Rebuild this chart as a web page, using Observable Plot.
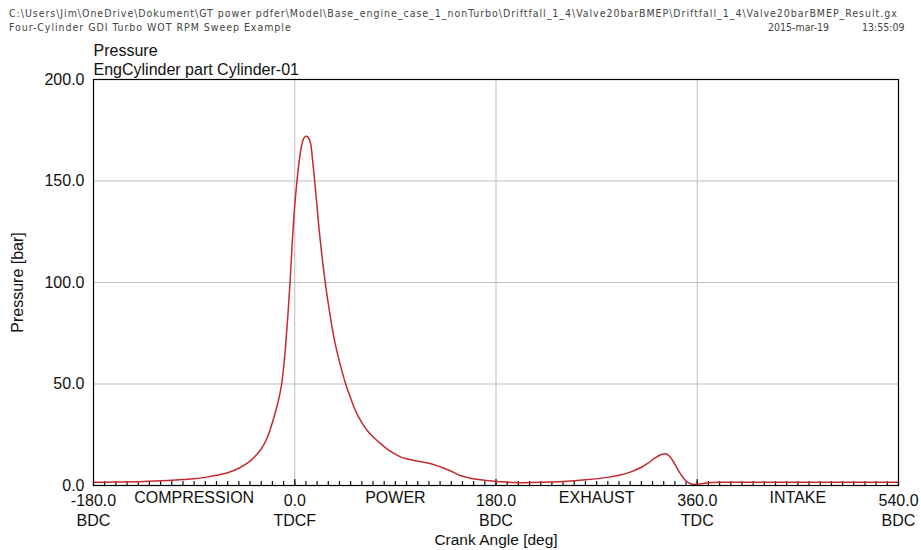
<!DOCTYPE html>
<html>
<head>
<meta charset="utf-8">
<script src="https://cdn.jsdelivr.net/npm/d3@7"></script>
<script src="https://cdn.jsdelivr.net/npm/@observablehq/plot@0.6"></script>
<style>
  html, body { margin: 0; padding: 0; background: #fff; }
  #wrap { position: relative; width: 921px; height: 550px; font-family: "Liberation Sans", Arial, sans-serif; }
  .hdr { position: absolute; z-index: 5; font-size: 10.5px; line-height: 12px; color: #444; white-space: pre; font-family: "Liberation Sans Narrow", "DejaVu Sans Condensed", "Liberation Sans", sans-serif; }
  .wide { letter-spacing: 0.97px; }
  #chart { position: absolute; left: 0; top: 0; z-index: 1; }
</style>
</head>
<body>
<div id="wrap">
  <div id="chart"></div>
  <div class="hdr wide" id="h1" style="left:9px; top:7px;"></div>
  <div class="hdr wide" id="h2" style="left:9px; top:21px;"></div>
  <div class="hdr" id="h3" style="left:768px; top:21px;"></div>
  <div class="hdr" id="h4" style="left:862px; top:21px;"></div>
</div>
<script>
const filePath = "C:\\Users\\Jim\\OneDrive\\Dokument\\GT power pdfer\\Model\\Base_engine_case_1_nonTurbo\\Driftfall_1_4\\Valve20barBMEP\\Driftfall_1_4\\Valve20barBMEP_Result.gx";
const modelTitle = "Four-Cylinder GDI Turbo WOT RPM Sweep Example";
const runDate = "2015-mar-19";
const runTime = "13:55:09";
const plotTitle = "Pressure";
const plotSubtitle = "EngCylinder part Cylinder-01";
const yLabel = "Pressure [bar]";
const xLabel = "Crank Angle [deg]";

// Crank angle [deg] and cylinder pressure [bar]
const crankAngle = [-180,-160,-140,-120,-100,-90,-80,-70,-60,-50,-40,-30,-25,-20,-15,-12,-10,-8,-6,-4,-2,0,2,4,6,8,10,12,14,16,18,20,22,25,28,31,35,40,45,50,55,60,65,70,77,85,95,108,122,131,140,148,157,166,178,190,200,220,240,260,280,290,300,310,316,322,328,332,335,338,341,345,350,355,360,365,370,380,420,460,500,540];
const pressure   = [1.6,1.7,1.9,2.3,2.9,3.3,4.0,5.0,6.3,8.5,12,18,23,31,41,49,58,70,85,102,122,138,150,160,167,171,172,171.5,169,160,149,137,125,110,97,86,73,61,51,43,36,31,27,24,20.5,17,14,12.2,10.7,9,7,4.9,3.6,2.8,2.1,1.6,1.4,1.6,2.0,2.8,4.0,5.0,6.6,9,11,13.5,15.3,15.6,14.5,12.3,9.5,5.7,2.2,0.7,0.6,1.0,1.4,1.6,1.6,1.6,1.6,1.6];

const yTicks = [0, 50, 100, 150, 200];
const yGrid = [50, 100, 150];
const xMajor = [-180, 0, 180, 360, 540];
const xMajorNames = ["BDC", "TDCF", "BDC", "TDC", "BDC"];
const xGrid = [0, 180, 360];
const xMinor = d3.range(-180, 541, 10);
const strokeNames = ["COMPRESSION", "POWER", "EXHAUST", "INTAKE"];
const strokeCenters = [-90, 90, 270, 450];

document.getElementById("h1").textContent = filePath;
document.getElementById("h2").textContent = modelTitle;
document.getElementById("h3").textContent = runDate;
document.getElementById("h4").textContent = runTime;

const data = crankAngle.map((a, i) => ({angle: a, p: pressure[i]}));
const majors = xMajor.map((v, i) => ({v, label: v.toFixed(1) + "\n" + xMajorNames[i]}));
const strokes = strokeNames.map((s, i) => ({x: strokeCenters[i], s}));

const FS = 16;
const chart = Plot.plot({
  width: 921,
  height: 550,
  marginLeft: 93,
  marginRight: 23,
  marginTop: 79,
  marginBottom: 65,
  style: {fontFamily: "'Liberation Sans', Arial, sans-serif", fontSize: FS + "px", color: "#111", background: "transparent"},
  x: {domain: [-180, 540], axis: null},
  y: {domain: [0, 200], axis: null},
  marks: [
    Plot.gridY(yGrid, {stroke: "#bdbdbd", strokeOpacity: 1}),
    Plot.gridX(xGrid, {stroke: "#bdbdbd", strokeOpacity: 1}),
    Plot.axisX({ticks: xMinor, tickSize: -4, tickFormat: () => "", stroke: "#111", strokeWidth: 1.2}),
    Plot.axisX({ticks: xGrid, tickSize: -6, tickFormat: () => "", stroke: "#111", strokeWidth: 1.2}),
    Plot.line(data, {x: "angle", y: "p", curve: "catmull-rom", stroke: "#c42a30", strokeWidth: 1.5}),
    Plot.frame({stroke: "#000", strokeWidth: 1.2}),
    Plot.axisY({ticks: yTicks, tickSize: 0, tickPadding: 9, tickFormat: d => d.toFixed(1), fontSize: FS, label: null}),
    Plot.text(majors, {x: "v", y: 0, text: "label", lineAnchor: "top", dy: 6, lineHeight: 1.25, fontSize: FS, fill: "#111"}),
    Plot.text(strokes, {x: "x", y: 0, text: "s", lineAnchor: "top", dy: 6, fontSize: FS, fill: "#111"}),
    Plot.text([xLabel], {frameAnchor: "bottom", text: d => d, lineAnchor: "middle", dy: 55, fontSize: 15.5, fill: "#111"}),
    Plot.text([yLabel], {frameAnchor: "left", text: d => d, textAnchor: "middle", lineAnchor: "middle", dx: -76, rotate: -90, fontSize: FS, fill: "#111"}),
    Plot.text([plotTitle], {frameAnchor: "top-left", text: d => d, textAnchor: "start", lineAnchor: "middle", dy: -29, fontSize: FS, fill: "#111"}),
    Plot.text([plotSubtitle], {frameAnchor: "top-left", text: d => d, textAnchor: "start", lineAnchor: "middle", dy: -10, fontSize: FS, fill: "#111"})
  ]
});
document.getElementById("chart").appendChild(chart);
</script>
</body>
</html>
